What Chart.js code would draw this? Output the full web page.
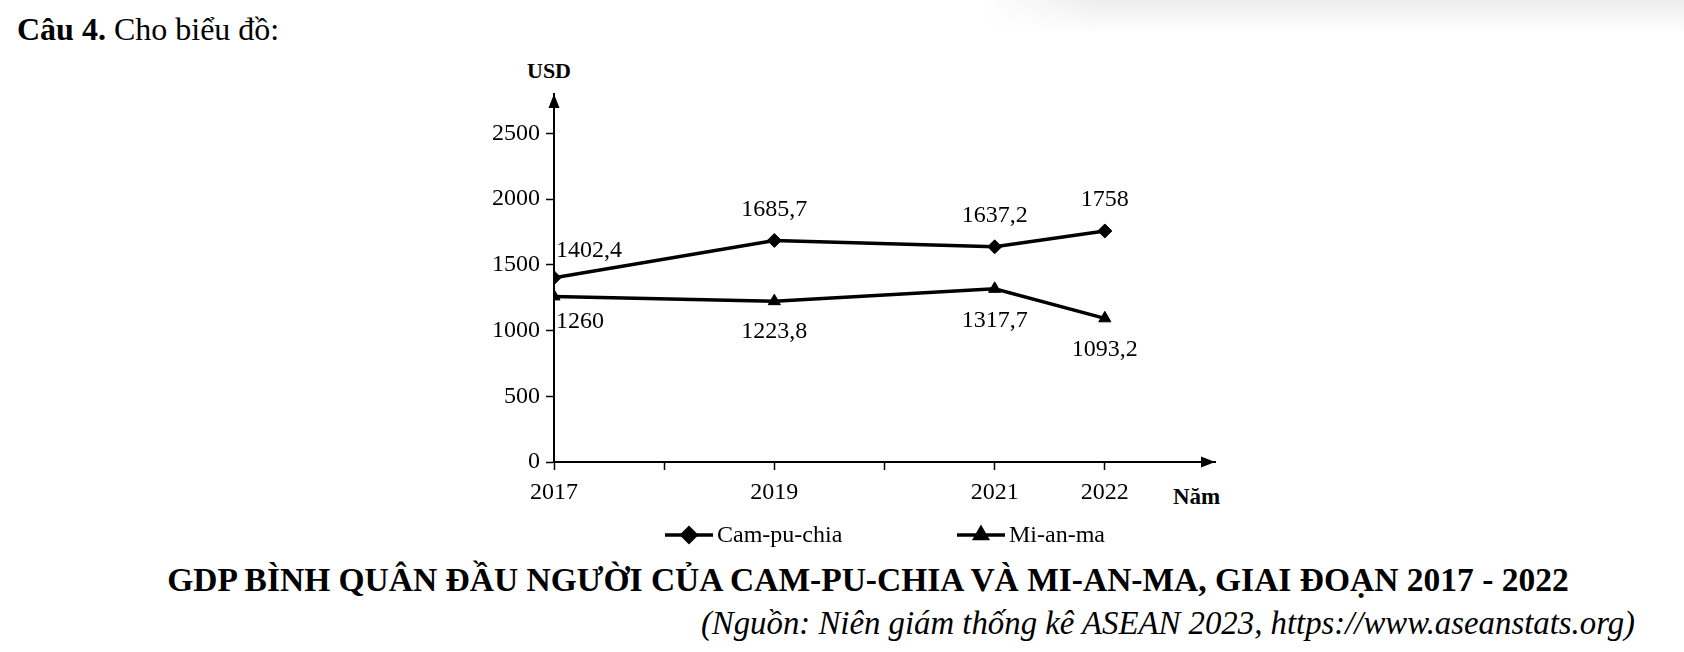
<!DOCTYPE html>
<html>
<head>
<meta charset="utf-8">
<script src="https://cdn.jsdelivr.net/npm/chart.js@4.4.1/dist/chart.umd.min.js"></script>
<style>
	body { margin: 0; background: #fff; }
	#wrap { position: relative; width: 1684px; height: 652px; overflow: hidden; font-family: 'Liberation Serif', serif; color: #000; }
	.txt { position: absolute; white-space: nowrap; line-height: 1; font-family: 'Liberation Serif', serif; }
	#shade { position: absolute; left: 980px; top: 0; width: 704px; height: 34px;
		background: linear-gradient(to bottom, rgba(225,225,225,0.6), rgba(255,255,255,0));
		-webkit-mask-image: linear-gradient(to right, transparent, #000 120px);
		mask-image: linear-gradient(to right, transparent, #000 120px); }
	canvas { position: absolute; left: 0; top: 0; }
</style>
</head>
<body>
<div id="wrap">
	<div id="shade"></div>
	<div class="txt" style="left:17px; top:13px; font-size:32px;"><b>Câu 4.</b> Cho biểu đồ:</div>
	<div class="txt" style="left:527px; top:60px; font-size:22px; font-weight:bold;">USD</div>
	<div class="txt" style="left:1173px; top:485px; font-size:23px; font-weight:bold;">Năm</div>
	<div class="txt" id="title" style="left:0; width:1736px; text-align:center; top:563px; font-size:33.5px; font-weight:bold;">GDP BÌNH QUÂN ĐẦU NGƯỜI CỦA CAM-PU-CHIA VÀ MI-AN-MA, GIAI ĐOẠN 2017 - 2022</div>
	<div class="txt" style="right:49px; top:607px; font-size:32.8px; font-style:italic;">(Nguồn: Niên giám thống kê ASEAN 2023, https://www.aseanstats.org)</div>
	<canvas id="gdpChart" width="1684" height="652"></canvas>
</div>
<script>
// data
const years = [2017, 2019, 2021, 2022];
const campuchia = [1402.4, 1685.7, 1637.2, 1758];
const myanmar = [1260, 1223.8, 1317.7, 1093.2];
const seriesNames = ['Cam-pu-chia', 'Mi-an-ma'];
const yearLabels = [2017, 2019, 2021, 2022];
const yTicks = [0, 500, 1000, 1500, 2000, 2500];

const FONT = "'Liberation Serif', serif";

// label offsets (dx, dy, align) per point
const labelPos = [
	[[2, -27, 'left'], [0, -31, 'center'], [0, -31, 'center'], [0, -31, 'center']],
	[[2, 25, 'left'], [0, 31, 'center'], [0, 32, 'center'], [0, 31, 'center']]
];

function fmt(v) {
	return String(v).replace('.', ',');
}

const decorations = {
	id: 'decorations',
	afterDraw(chart) {
		const ctx = chart.ctx;
		const area = chart.chartArea;
		ctx.save();
		ctx.fillStyle = '#000';
		ctx.strokeStyle = '#000';

		// axis arrows
		ctx.beginPath();
		ctx.moveTo(area.left, area.top);
		ctx.lineTo(area.left - 5.5, area.top + 14);
		ctx.lineTo(area.left + 5.5, area.top + 14);
		ctx.closePath();
		ctx.fill();
		ctx.beginPath();
		ctx.moveTo(area.right, area.bottom);
		ctx.lineTo(area.right - 14, area.bottom - 5.5);
		ctx.lineTo(area.right - 14, area.bottom + 5.5);
		ctx.closePath();
		ctx.fill();

		// value labels
		ctx.font = '24px ' + FONT;
		ctx.textBaseline = 'middle';
		chart.data.datasets.forEach((ds, i) => {
			const meta = chart.getDatasetMeta(i);
			meta.data.forEach((pt, j) => {
				const p = labelPos[i][j];
				ctx.textAlign = p[2];
				ctx.fillText(fmt(ds.data[j].y), pt.x + p[0], pt.y + p[1]);
			});
		});

		// legend
		const legendItems = [
			{ x: 665, style: 'rectRot', r: 7 },
			{ x: 957, style: 'triangle', r: 7 }
		];
		const ly = 535;
		ctx.textAlign = 'left';
		ctx.lineWidth = 3.5;
		legendItems.forEach((it, i) => {
			ctx.beginPath();
			ctx.moveTo(it.x, ly);
			ctx.lineTo(it.x + 48, ly);
			ctx.stroke();
			Chart.helpers.drawPoint(ctx, { pointStyle: it.style, radius: it.r, borderWidth: 1 }, it.x + 24, ly);
			ctx.fill();
			ctx.fillText(seriesNames[i], it.x + 52, ly + 1);
		});
		ctx.restore();
	}
};

function makeData(vals) {
	return years.map((y, i) => ({ x: y, y: vals[i] }));
}

const ctx = document.getElementById('gdpChart').getContext('2d');
const gdpChart = new Chart(ctx, {
	type: 'line',
	data: {
		datasets: [
			{
				label: seriesNames[0],
				data: makeData(campuchia),
				borderColor: '#000',
				backgroundColor: '#000',
				borderWidth: 3.5,
				pointStyle: 'rectRot',
				pointRadius: 7,
				pointBorderWidth: 1,
				tension: 0
			},
			{
				label: seriesNames[1],
				data: makeData(myanmar),
				borderColor: '#000',
				backgroundColor: '#000',
				borderWidth: 3.5,
				pointStyle: 'triangle',
				pointRadius: 7,
				pointBorderWidth: 1,
				tension: 0
			}
		]
	},
	options: {
		responsive: false,
		animation: false,
		devicePixelRatio: 1,
		layout: {
			padding: { left: 454, right: 469, top: 94, bottom: 150 }
		},
		plugins: {
			legend: { display: false },
			tooltip: { enabled: false }
		},
		scales: {
			x: {
				type: 'linear',
				min: 2017,
				max: 2023,
				afterFit: (scale) => { scale.height = 40; },
				border: { display: true, color: '#000', width: 2 },
				grid: {
					drawOnChartArea: false,
					drawTicks: true,
					tickLength: 8,
					tickWidth: 1.5,
					tickColor: (c) => (c.tick && c.tick.value >= 2023 ? 'rgba(0,0,0,0)' : '#000')
				},
				ticks: {
					stepSize: 1,
					padding: 8,
					color: '#000',
					font: { family: FONT, size: 24 },
					maxRotation: 0,
					autoSkip: false,
					callback: (v) => (yearLabels.includes(v) ? String(v) : '')
				}
			},
			y: {
				min: 0,
				max: 2800,
				afterFit: (scale) => { scale.width = 100; },
				afterBuildTicks: (scale) => {
					scale.ticks = yTicks.map(v => ({ value: v }));
				},
				border: { display: true, color: '#000', width: 2 },
				grid: {
					drawOnChartArea: false,
					drawTicks: true,
					tickLength: 8,
					tickWidth: 1.5,
					tickColor: '#000'
				},
				ticks: {
					padding: 6,
					color: '#000',
					font: { family: FONT, size: 24 },
					callback: (v) => String(v)
				}
			}
		}
	},
	plugins: [decorations]
});
</script>
</body>
</html>
